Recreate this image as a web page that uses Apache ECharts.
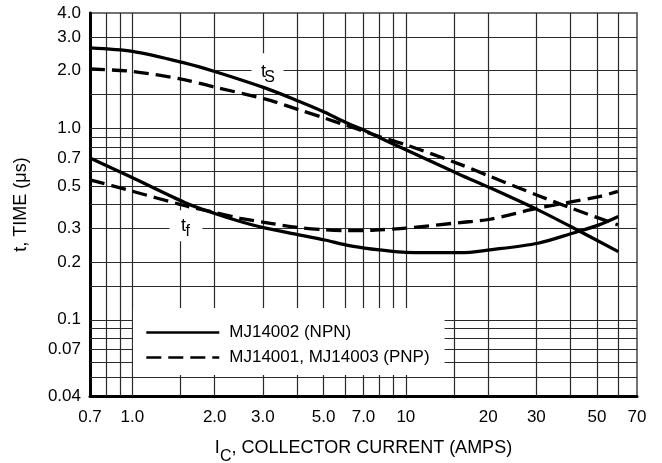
<!DOCTYPE html>
<html><head><meta charset="utf-8">
<script src="https://cdn.jsdelivr.net/npm/echarts@6/dist/echarts.min.js"></script>
<style>html,body{margin:0;padding:0;background:#fff}#c{width:662px;height:463px}</style>
</head><body><div id="c"></div>
<script>
// ---- tick labels ----
const xTickVals = [0.7, 1, 2, 3, 5, 7, 10, 20, 30, 50, 70];
const xTickLabels = ['0.7', '1.0', '2.0', '3.0', '5.0', '7.0', '10', '20', '30', '50', '70'];
const yTickVals = [0.04, 0.07, 0.1, 0.2, 0.3, 0.5, 0.7, 1, 2, 3, 4];
const yTickLabels = ['0.04', '0.07', '0.1', '0.2', '0.3', '0.5', '0.7', '1.0', '2.0', '3.0', '4.0'];
// ---- grid line values ----
const xGridVals = [0.8, 0.9, 1, 1.5, 2, 3, 4, 5, 6, 7, 8, 9, 10, 15, 20, 30, 40, 50, 60];
const yGridVals = [0.05, 0.06, 0.07, 0.08, 0.09, 0.1, 0.15, 0.2, 0.3, 0.4, 0.5, 0.6, 0.7, 0.8, 0.9, 1, 1.5, 3];
// ---- data: storage time ts (µs) vs collector current (A) ----
const tsNpnX = [0.7, 1.0, 1.56, 2.0, 3.07, 4.06, 5.05, 6.0, 7.07, 8.0, 10, 15.8, 20.3, 30.4, 40.2, 59.8];
const tsNpnY = [2.63, 2.52, 2.19, 1.98, 1.62, 1.384, 1.212, 1.075, 0.974, 0.894, 0.772, 0.572, 0.489, 0.375, 0.306, 0.227];
const tsPnpX = [0.7, 1.0, 1.56, 2.0, 3.07, 4.06, 5.05, 6.0, 7.07, 8.0, 10, 15.8, 20.3, 30.4, 40.2, 59.6];
const tsPnpY = [2.04, 1.98, 1.79, 1.64, 1.42, 1.25, 1.13, 1.04, 0.962, 0.906, 0.820, 0.648, 0.561, 0.446, 0.383, 0.313];
// ---- data: fall time tf (µs) vs collector current (A) ----
const tfNpnX = [0.7, 0.98, 1.56, 1.99, 2.48, 3.07, 4.06, 5.05, 6.02, 7.07, 8.0, 10, 15.8, 20.3, 30.4, 40.6, 50.9, 59.8];
const tfNpnY = [0.699, 0.560, 0.409, 0.360, 0.326, 0.301, 0.278, 0.261, 0.246, 0.237, 0.232, 0.225, 0.224, 0.232, 0.251, 0.283, 0.313, 0.346];
const tfPnpX = [0.7, 0.98, 1.56, 1.99, 2.48, 3.07, 4.06, 5.05, 6.02, 7.07, 8.0, 10, 15.8, 20.3, 30.4, 40.6, 50.9, 59.6];
const tfPnpY = [0.538, 0.473, 0.394, 0.364, 0.339, 0.322, 0.303, 0.295, 0.292, 0.292, 0.295, 0.301, 0.322, 0.335, 0.383, 0.414, 0.440, 0.468];

const NPN = 'MJ14002 (NPN)';
const PNP = 'MJ14001, MJ14003 (PNP)';
const FONT = '"Liberation Sans", Arial, Helvetica, sans-serif';

function zip(xs, ys) { return xs.map((x, i) => [x, ys[i]]); }
function lookup(vals, labels) {
  return function (v) {
    let best = 0, bd = Infinity;
    vals.forEach((t, i) => { const d = Math.abs(Math.log(t) - Math.log(v)); if (d < bd) { bd = d; best = i; } });
    return bd < 0.01 ? labels[best] : '';
  };
}

const solid = { color: '#000', width: 3.3, type: 'solid' };
const dashed = { color: '#000', width: 3.3, type: [15, 7], cap: 'butt' };
function curve(name, xs, ys, ls) {
  return { name, type: 'line', data: zip(xs, ys), showSymbol: false, symbol: 'none', smooth: 0.3,
    lineStyle: ls, itemStyle: { color: '#000' }, z: 3, silent: true };
}

const gridLineData = xGridVals.map(v => ({ xAxis: v }))
  .concat(yGridVals.map(v => ({ yAxis: v })))
  .concat([[{ coord: [2, 2] }, { coord: [70, 2] }]]);

// curve annotations: white box + letter + subscript
function annot(coord, main, sub, boxW, boxH, offMain, offSub) {
  return [
    { coord, label: { formatter: ' ', backgroundColor: '#fff', width: boxW, height: boxH, padding: 0 } },
    { coord, label: { formatter: main, fontSize: 18, offset: offMain } },
    { coord, label: { formatter: sub, fontSize: 16, offset: offSub } }
  ];
}

const chart = echarts.init(document.getElementById('c'), null, { renderer: 'canvas' });
chart.setOption({
  animation: false,
  backgroundColor: '#fff',
  textStyle: { fontFamily: FONT },
  grid: { left: 90, right: 25, top: 13, bottom: 67, show: true, borderColor: '#444', borderWidth: 1.5,
    containLabel: false, outerBoundsMode: 'none' },
  legend: {
    data: [NPN, PNP], orient: 'vertical', left: 133, top: 308, z: 6,
    padding: [16, 15, 9, 12], itemGap: 8, itemWidth: 73, itemHeight: 14,
    backgroundColor: '#fff', borderWidth: 0, selectedMode: false,
    lineStyle: { width: 2.6 },
    itemStyle: { opacity: 0, color: 'rgba(0,0,0,0)', borderWidth: 0 },
    textStyle: { fontSize: 17, color: '#000', fontFamily: FONT, lineHeight: 17, padding: [0, 0, 0, 5] }
  },
  xAxis: {
    type: 'log', logBase: 10, min: 0.7, max: 70,
    axisLine: { show: true, onZero: false, lineStyle: { color: '#000', width: 3 } },
    axisTick: { show: false }, splitLine: { show: false }, minorTick: { show: false },
    axisLabel: { customValues: xTickVals, formatter: lookup(xTickVals, xTickLabels), color: '#000',
      fontSize: 17, fontFamily: FONT, margin: 13, interval: 0, hideOverlap: false },
    name: '{a|I}{s|C}{a|, COLLECTOR CURRENT (AMPS)}', nameLocation: 'middle', nameGap: 43, nameMoveOverlap: false,
    nameTextStyle: { color: '#000', rich: {
      a: { fontSize: 18, fontFamily: FONT, color: '#000', verticalAlign: 'top', lineHeight: 20 },
      s: { fontSize: 16, fontFamily: FONT, color: '#000', verticalAlign: 'bottom', lineHeight: 26 } } }
  },
  yAxis: {
    type: 'log', logBase: 10, min: 0.04, max: 4,
    axisLine: { show: true, onZero: false, lineStyle: { color: '#000', width: 3 } },
    axisTick: { show: false }, splitLine: { show: false }, minorTick: { show: false },
    axisLabel: { customValues: yTickVals, formatter: lookup(yTickVals, yTickLabels), color: '#000',
      fontSize: 17, fontFamily: FONT, margin: 9, interval: 0, hideOverlap: false },
    name: 't, TIME (μs)', nameLocation: 'middle', nameGap: 60, nameMoveOverlap: false,
    nameTextStyle: { color: '#000', fontSize: 18, fontFamily: FONT }
  },
  series: [
    { name: 'grid', type: 'line', data: [[1, 1]], symbol: 'none', lineStyle: { opacity: 0 }, z: 1, silent: true,
      markLine: { silent: true, z: 1, symbol: ['none', 'none'], label: { show: false }, animation: false,
        lineStyle: { color: '#2a2a2a', width: 1.2, type: 'solid' }, emphasis: { disabled: true },
        data: gridLineData } },
    { name: 'labels', type: 'line', data: [[1, 1]], symbol: 'none', lineStyle: { opacity: 0 }, z: 2, silent: true,
      markPoint: { silent: true, z: 2, symbol: 'rect', symbolSize: 1, itemStyle: { color: 'rgba(0,0,0,0)' }, animation: false,
        label: { show: true, position: 'inside', color: '#000', fontFamily: FONT },
        data: [].concat(
          annot([3.12, 2.0], 't', 'S', 32, 35, [-4, 1], [2, 7]),
          annot([1.57, 0.31], 't', 'f', 33, 31, [-2.5, 0], [1.7, 6])
        ) } },
    curve(NPN, tsNpnX, tsNpnY, solid),
    curve(PNP, tsPnpX, tsPnpY, dashed),
    curve(NPN, tfNpnX, tfNpnY, solid),
    curve(PNP, tfPnpX, tfPnpY, dashed)
  ]
});
</script>
</body></html>
